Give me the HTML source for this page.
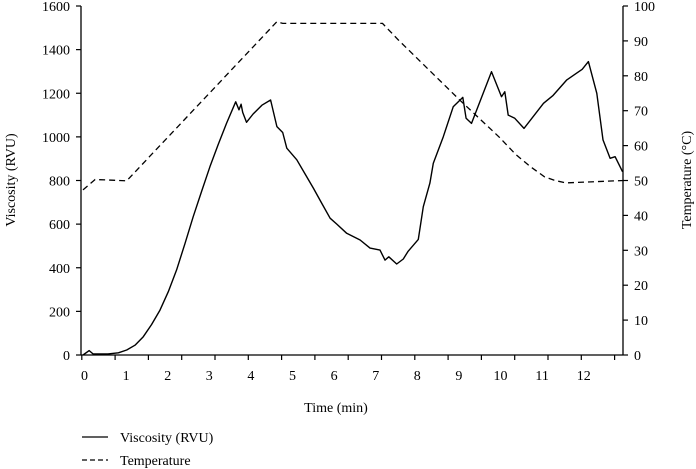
<!DOCTYPE html>
<html><head><meta charset="utf-8"><style>
body{margin:0;background:#fff}
svg{display:block;font-family:"Liberation Serif",serif;font-size:14px;fill:#000}
</style></head><body>
<svg id="chart" width="696" height="469" viewBox="0 0 696 469">
<g id="axes"></g>
<g id="series"></g>
<text x="336" y="412" text-anchor="middle">Time (min)</text>
<text transform="translate(15,180) rotate(-90)" text-anchor="middle">Viscosity (RVU)</text>
<text transform="translate(691,180) rotate(-90)" text-anchor="middle">Temperature (°C)</text>
<g>
<line x1="82" y1="437" x2="108" y2="437" stroke="#000" stroke-width="1.3"/>
<text x="120" y="442">Viscosity (RVU)</text>
<line x1="82" y1="460" x2="108" y2="460" stroke="#000" stroke-width="1.3" stroke-dasharray="5,3"/>
<text x="120" y="465">Temperature</text>
</g>
</svg>
<script>
const xTickLabels=[0,1,2,3,4,5,6,7,8,9,10,11,12];
const yTickLabels=[0,200,400,600,800,1000,1200,1400,1600];
const y2TickLabels=[0,10,20,30,40,50,60,70,80,90,100];
const viscTime=[0,0.15,0.24,0.6,0.85,1.05,1.25,1.45,1.65,1.85,2.05,2.25,2.45,2.65,2.85,3.05,3.25,3.45,3.67,3.75,3.8,3.84,3.93,4.09,4.3,4.51,4.66,4.8,4.9,5.14,5.34,5.54,5.74,5.94,6.1,6.34,6.5,6.66,6.9,7.14,7.26,7.35,7.54,7.7,7.81,8.06,8.18,8.34,8.42,8.66,8.9,9.13,9.21,9.34,9.82,10.06,10.14,10.22,10.38,10.6,11.07,11.3,11.63,11.85,12.0,12.15,12.35,12.5,12.67,12.79,12.97];
const viscValues=[0,20,5,5,10,23,45,84,140,206,290,390,510,634,750,863,965,1062,1161,1124,1150,1112,1067,1105,1145,1169,1047,1020,948,895,830,764,695,627,600,558,543,527,490,481,435,450,417,440,474,530,680,788,879,1001,1138,1181,1085,1062,1299,1184,1207,1100,1085,1039,1154,1190,1261,1290,1310,1345,1200,986,902,909,840];
const tempTime=[0,0.29,1.05,4.66,4.8,7.2,7.58,9.06,10.0,10.4,10.75,11.1,11.35,11.6,13];
const tempValues=[47.3,50.3,49.9,95.5,95,95,90.3,73,62.5,57.5,54,51,50,49.3,50];

const NS='http://www.w3.org/2000/svg';
const X0=83,XS=41.6,YB=355,YT=6;
const xS=t=>X0+t*XS;
const yS=v=>YB-v*(YB-YT)/1600;
const y2S=v=>YB-v*(YB-YT)/100;
function mk(tag,attrs,parent){const e=document.createElementNS(NS,tag);for(const k in attrs)e.setAttribute(k,attrs[k]);parent.appendChild(e);return e;}
const ax=document.getElementById('axes');
let l=mk('line',{x1:81,y1:YT,x2:81,y2:YB,stroke:'#000','stroke-width':1.3},ax);


l=mk('line',{x1:623,y1:YT,x2:623,y2:YB,stroke:'#000','stroke-width':1.3},ax);


l=mk('line',{x1:81,y1:YB,x2:623,y2:YB,stroke:'#000','stroke-width':1.3},ax);


for(let k=0;k<=16;k++){const x=81.8+k*33.3;mk('line',{x1:x,y1:YB,x2:x,y2:YB+5,stroke:'#000','stroke-width':1.2},ax);}
xTickLabels.forEach(v=>{const t=mk('text',{x:xS(v)+1.5,y:YB+25,'text-anchor':'middle'},ax);t.textContent=v;

});
yTickLabels.forEach(v=>{const y=yS(v);mk('line',{x1:76,y1:y,x2:81,y2:y,stroke:'#000','stroke-width':1.2},ax);
const t=mk('text',{x:70,y:y+5,'text-anchor':'end'},ax);t.textContent=v;

});
y2TickLabels.forEach(v=>{const y=y2S(v);mk('line',{x1:623,y1:y,x2:628,y2:y,stroke:'#000','stroke-width':1.2},ax);
const t=mk('text',{x:634,y:y+5,'text-anchor':'start'},ax);t.textContent=v;

});
const sg=document.getElementById('series');
const pv=mk('path',{d:viscTime.map((t,i)=>(i?'L':'M')+xS(t).toFixed(1)+','+yS(viscValues[i]).toFixed(1)).join(''),fill:'none',stroke:'#000','stroke-width':1.4,'stroke-linejoin':'round'},sg);


const pt=mk('path',{d:tempTime.map((t,i)=>(i?'L':'M')+xS(t).toFixed(1)+','+y2S(tempValues[i]).toFixed(1)).join(''),fill:'none',stroke:'#000','stroke-width':1.3,'stroke-dasharray':'6,4'},sg);


</script>
</body></html>
